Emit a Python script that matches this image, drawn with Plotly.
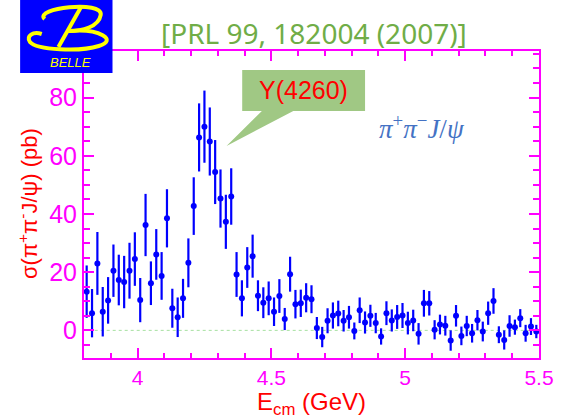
import plotly.graph_objects as go

# ---------------- data ----------------
energy = [3.81, 3.83, 3.85, 3.87, 3.89, 3.91, 3.93, 3.95, 3.97, 3.99,
          4.01, 4.03, 4.05, 4.07, 4.09, 4.11, 4.13, 4.15, 4.17, 4.19,
          4.21, 4.23, 4.25, 4.27, 4.29, 4.31, 4.33, 4.35, 4.37, 4.39,
          4.41, 4.43, 4.45, 4.47, 4.49, 4.51, 4.53, 4.55, 4.57, 4.59,
          4.61, 4.63, 4.65, 4.67, 4.69, 4.71, 4.73, 4.75, 4.77, 4.79,
          4.81, 4.83, 4.85, 4.87, 4.89, 4.91, 4.93, 4.95, 4.97, 4.99,
          5.01, 5.03, 5.05, 5.07, 5.09, 5.11, 5.13, 5.15, 5.17, 5.19,
          5.21, 5.23, 5.25, 5.27, 5.29, 5.31, 5.33, 5.35, 5.37, 5.39,
          5.41, 5.43, 5.45, 5.47, 5.49]
sigma = [13.3, 5.9, 23.0, 6.4, 10.3, 20.5, 17.3, 16.6, 20.5, 24.5,
         10.4, 36.2, 16.2, 26.1, 18.7, 38.5, 7.6, 4.5, 11.0, 23.2,
         42.7, 66.3, 70.0, 64.9, 54.4, 45.3, 37.3, 46.0, 19.2, 11.0,
         21.6, 25.5, 11.9, 9.5, 11.0, 6.4, 11.8, 3.9, 19.3, 9.0,
         9.3, 11.2, 10.7, 0.8, -2.3, 3.3, 5.1, 5.8, 3.3, 4.5,
         -0.2, 6.9, 2.7, 5.0, 2.5, -2.1, 5.9, 3.4, 4.6, 5.1,
         2.5, 3.4, -1.2, 9.3, 9.3, 0.2, 2.0, 1.6, -3.5, 5.0,
         -1.9, 1.5, -1.0, 3.5, -0.4, 5.9, 10.1, -1.5, -3.3, 1.5,
         1.1, 4.2, -1.0, 1.3, -0.4]
sigma_err = [9.0, 8.3, 10.8, 8.5, 8.0, 9.0, 8.7, 9.0, 9.6, 9.2,
             7.6, 10.7, 7.5, 8.7, 8.2, 10.0, 6.7, 6.8, 6.7, 8.4,
             9.9, 11.7, 12.4, 11.7, 11.0, 10.0, 9.3, 9.7, 7.7, 6.2,
             7.0, 7.4, 5.3, 5.3, 5.8, 4.9, 5.8, 3.8, 6.0, 4.9,
             4.7, 5.0, 4.8, 3.8, 3.5, 4.3, 4.5, 4.4, 3.7, 3.9,
             2.9, 4.4, 3.8, 3.8, 3.5, 2.8, 4.1, 3.8, 4.1, 4.3,
             3.9, 3.7, 3.7, 4.6, 4.2, 3.3, 3.4, 3.4, 3.5, 3.7,
             3.2, 3.5, 3.2, 3.5, 3.4, 4.0, 4.4, 2.9, 3.3, 3.7,
             2.6, 3.1, 2.9, 2.9, 2.3]
baseline_x = [3.84, 5.5]
baseline_y = [0, 0]

x_range = [3.8, 5.5]
y_range = [-9.5, 96]

MAG = "#ff00ff"
W, H = 566, 420
L, R, T, B = 84, 19, 51, 62
PW, PH = W - L - R, H - T - B


def px(x):
    return (x - L) / PW


def py(y):
    return (H - B - y) / PH


def path(points, close=False):
    s = "M " + " L ".join(f"{px(a):.4f},{py(b):.4f}" for a, b in points)
    return s + (" Z" if close else "")


def bez(start, segs):
    s = f"M {px(start[0]):.4f},{py(start[1]):.4f}"
    for c1, c2, e in segs:
        s += " C " + " ".join(f"{px(p[0]):.4f},{py(p[1]):.4f}" for p in (c1, c2, e))
    return s


fig = go.Figure()
fig.add_trace(go.Scatter(x=baseline_x, y=baseline_y, mode="lines",
                         line=dict(color="#a6e0a0", width=1, dash="dot"),
                         hoverinfo="skip", showlegend=False))
fig.add_trace(go.Scatter(
    x=energy, y=sigma, mode="markers",
    marker=dict(color="#0000ff", size=6),
    error_y=dict(type="data", array=sigma_err, color="#0000ff",
                 thickness=2.2, width=0),
    showlegend=False))

axis_common = dict(
    showline=True, linecolor=MAG, linewidth=2, mirror="ticks",
    ticks="inside", ticklen=10, tickwidth=2, tickcolor=MAG,
    showgrid=False, zeroline=False,
)
fig.update_xaxes(range=x_range, tickmode="linear", tick0=4, dtick=0.5,
                 tickfont=dict(family="Liberation Sans", size=21, color=MAG),
                 minor=dict(tickmode="linear", tick0=4, dtick=0.1, ticks="inside",
                            ticklen=5, tickwidth=2, tickcolor=MAG, showgrid=False),
                 **axis_common)
fig.update_yaxes(range=y_range, tickmode="linear", tick0=0, dtick=20,
                 tickfont=dict(family="Liberation Sans", size=25, color=MAG),
                 minor=dict(tickmode="linear", tick0=0, dtick=5, ticks="inside",
                            ticklen=6, tickwidth=2, tickcolor=MAG, showgrid=False),
                 **axis_common)

shapes = []
# callout
shapes.append(dict(type="path", xref="paper", yref="paper", layer="above",
                   path=path([(245, 70), (370, 70), (370, 111), (297, 111),
                              (229, 146), (265, 111), (245, 111)], close=True),
                   fillcolor="#a0c884", line=dict(width=0)))
# Belle logo
shapes.append(dict(type="rect", xref="paper", yref="paper", layer="above",
                   x0=px(19), x1=px(113), y0=py(73), y1=py(0),
                   fillcolor="#0000ff", line=dict(width=0)))
YEL = "#ffff00"
shapes.append(dict(type="path", xref="paper", yref="paper", layer="above",
                   path=bez((44, 19), [((32, 8), (104, 0), (101, 15)),
                                       ((99, 27), (82, 31), (68, 31))]),
                   line=dict(color=YEL, width=4)))
shapes.append(dict(type="path", xref="paper", yref="paper", layer="above",
                   path=path([(81, 7), (58, 47)]),
                   line=dict(color=YEL, width=4)))
shapes.append(dict(type="path", xref="paper", yref="paper", layer="above",
                   path=bez((68, 31), [((100, 28), (119, 40), (99, 46)),
                                       ((80, 52), (36, 50), (29, 42)),
                                       ((25, 36), (32, 31), (41, 34))]),
                   line=dict(color=YEL, width=4)))

annotations = [
    dict(text="[PRL 99, 182004 (2007)]", x=px(318), y=py(33), xref="paper", yref="paper",
         showarrow=False, xanchor="center", yanchor="middle",
         font=dict(family="Noto Sans", size=28, color="#70ad47")),
    dict(text="Y(4260)", x=px(307), y=py(90), xref="paper", yref="paper",
         showarrow=False, xanchor="center", yanchor="middle",
         font=dict(family="Liberation Sans", size=25, color="#ff0000")),
    dict(text="<i>π</i><sup>+</sup><i>π</i><sup>−</sup><i>J</i>/<i>ψ</i>",
         x=px(428), y=py(127), xref="paper", yref="paper",
         showarrow=False, xanchor="center", yanchor="middle",
         font=dict(family="Liberation Serif", size=27, color="#4472c4")),
    dict(text="<i>BELLE</i>", x=px(70), y=py(62), xref="paper", yref="paper",
         showarrow=False, xanchor="center", yanchor="middle",
         font=dict(family="Liberation Sans", size=13, color=YEL)),
    dict(text="σ(π<sup>+</sup>π<sup>-</sup>J/ψ) (pb)", x=px(27), y=py(203),
         xref="paper", yref="paper", showarrow=False, textangle=-90,
         xanchor="center", yanchor="middle",
         font=dict(family="Liberation Sans", size=22, color="#ff0000")),
    dict(text="E<sub>cm</sub> (GeV)", x=px(316), y=py(403), xref="paper", yref="paper",
         showarrow=False, xanchor="center", yanchor="middle",
         font=dict(family="Liberation Sans", size=24, color="#ff0000")),
]

fig.update_layout(
    width=W, height=H,
    margin=dict(l=L, r=R, t=T, b=B, pad=0),
    paper_bgcolor="white", plot_bgcolor="white",
    shapes=shapes, annotations=annotations,
    showlegend=False,
)

fig.write_html("out.html")
